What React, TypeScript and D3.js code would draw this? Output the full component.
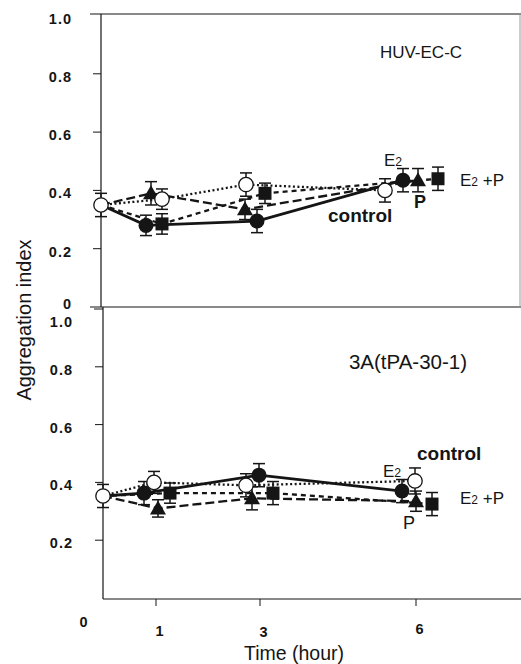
import React from 'react';
import * as d3 from 'd3';

// time points (hours)
const times = [0, 1, 3, 6];
const xTickLabels = ['1', '3', '6'];
const yTicks = [0.2, 0.4, 0.6, 0.8];

// HUV-EC-C panel
const huvControl = [0.35, 0.37, 0.42, 0.4];
const huvE2 = [0.35, 0.28, 0.295, 0.435];
const huvP = [0.35, 0.39, 0.335, 0.435];
const huvE2P = [0.35, 0.285, 0.39, 0.44];
const huvControlErr = [0.04, 0.035, 0.04, 0.04];
const huvE2Err = [0.04, 0.035, 0.04, 0.04];
const huvPErr = [0.04, 0.04, 0.035, 0.04];
const huvE2PErr = [0.04, 0.035, 0.035, 0.04];

// 3A(tPA-30-1) panel
const tpaControl = [0.353, 0.4, 0.39, 0.405];
const tpaE2 = [0.353, 0.363, 0.425, 0.37];
const tpaP = [0.353, 0.31, 0.345, 0.335];
const tpaE2P = [0.353, 0.363, 0.363, 0.325];
const tpaControlErr = [0.04, 0.038, 0.04, 0.045];
const tpaE2Err = [0.04, 0.04, 0.04, 0.04];
const tpaPErr = [0.04, 0.03, 0.04, 0.035];
const tpaE2PErr = [0.04, 0.035, 0.04, 0.04];

// horizontal dodge of the markers (px), so they don't sit on each other
const huvDodge = { control: [-3, 6, -14, -31], E2: [-3, -10, -3, -13], P: [-3, -5, -15, 2], E2P: [-3, 6, 5, 22] };
const tpaDodge = { control: [-1, -2, -14, -1], E2: [-1, -12, -1, -14], P: [-1, 2, -8, 0], E2P: [-1, 14, 13, 16] };

const W = 521;
const H = 664;
const ink = '#151515';
const font = 'Liberation Sans, Arial, Helvetica, sans-serif';

const x = d3.scaleLinear().domain([0, 8]).range([104, 520]);

const styles = {
  control: { dash: '2,2.5', width: 2.3, marker: 'open' },
  E2: { dash: null, width: 2.8, marker: 'dot' },
  P: { dash: '9,4', width: 2.3, marker: 'tri' },
  E2P: { dash: '5,4', width: 2.3, marker: 'sq' }
};

function Marker({ kind, cx, cy }) {
  if (kind === 'open') return <circle cx={cx} cy={cy} r={7.2} fill="#fff" stroke={ink} strokeWidth={1.3} />;
  if (kind === 'dot') return <circle cx={cx} cy={cy} r={7.5} fill={ink} />;
  if (kind === 'tri') {
    const s = 8;
    return <path d={`M${cx},${cy - s}L${cx + s},${cy + s * 0.75}L${cx - s},${cy + s * 0.75}Z`} fill={ink} />;
  }
  return <rect x={cx - 6.5} y={cy - 6.5} width={13} height={13} fill={ink} />;
}

function Panel({ y, axisX, series }) {
  const line = d3.line().x(d => d[0]).y(d => d[1]);
  const order = ['E2P', 'P', 'E2', 'control'];
  return (
    <g>
      {yTicks.map(t => (
        <line key={t} x1={axisX - 8} x2={axisX} y1={y(t)} y2={y(t)} stroke={ink} strokeWidth={1} />
      ))}
      {order.map(k => {
        const s = series[k];
        const pts = times.map((t, i) => [x(t) + s.dodge[i], y(s.values[i])]);
        const st = styles[k];
        return (
          <path key={k} d={line(pts)} fill="none" stroke={ink} strokeWidth={st.width}
            strokeDasharray={st.dash || undefined} />
        );
      })}
      {order.map(k => {
        const s = series[k];
        const st = styles[k];
        return times.map((t, i) => {
          if (i === 0 && k !== 'control') return null;
          const cx = x(t) + s.dodge[i];
          const v = s.values[i];
          const e = s.err[i];
          return (
            <g key={k + i}>
              <line x1={cx} x2={cx} y1={y(v + e)} y2={y(v - e)} stroke={ink} strokeWidth={1.5} />
              <line x1={cx - 6} x2={cx + 6} y1={y(v + e)} y2={y(v + e)} stroke={ink} strokeWidth={1.5} />
              <line x1={cx - 6} x2={cx + 6} y1={y(v - e)} y2={y(v - e)} stroke={ink} strokeWidth={1.5} />
              <Marker kind={st.marker} cx={cx} cy={y(v)} />
            </g>
          );
        });
      })}
    </g>
  );
}

function E2({ x0, y0, size }) {
  return (
    <text x={x0} y={y0} fontSize={size} fontFamily={font} fill={ink}>
      E<tspan fontSize={size * 0.72}>2</tspan>
    </text>
  );
}

export default function App() {
  const yTop = d3.scaleLinear().domain([0, 1]).range([307, 15.5]);
  const yBot = d3.scaleLinear().domain([0, 1]).range([598, 309]);

  const huv = {
    control: { values: huvControl, err: huvControlErr, dodge: huvDodge.control },
    E2: { values: huvE2, err: huvE2Err, dodge: huvDodge.E2 },
    P: { values: huvP, err: huvPErr, dodge: huvDodge.P },
    E2P: { values: huvE2P, err: huvE2PErr, dodge: huvDodge.E2P }
  };
  const tpa = {
    control: { values: tpaControl, err: tpaControlErr, dodge: tpaDodge.control },
    E2: { values: tpaE2, err: tpaE2Err, dodge: tpaDodge.E2 },
    P: { values: tpaP, err: tpaPErr, dodge: tpaDodge.P },
    E2P: { values: tpaE2P, err: tpaE2PErr, dodge: tpaDodge.E2P }
  };

  const tickLabel = { fontFamily: font, fontSize: 14.5, fontWeight: 'bold', fill: ink, letterSpacing: 1 };

  return (
    <svg width={W} height={H} style={{ position: 'absolute', left: 0, top: 0, background: '#fff' }}>
      {/* frame */}
      <line x1={90} x2={521} y1={14} y2={14} stroke={ink} strokeWidth={1.2} />
      <line x1={90} x2={521} y1={307} y2={307} stroke={ink} strokeWidth={1.2} />
      <line x1={520} x2={520} y1={14} y2={307} stroke="#999" strokeWidth={1} />
      <line x1={101} x2={101} y1={14} y2={307} stroke={ink} strokeWidth={1.2} />
      <line x1={103} x2={103} y1={307} y2={599} stroke={ink} strokeWidth={1.2} />
      <line x1={103} x2={521} y1={599} y2={599} stroke={ink} strokeWidth={1.2} />
      <line x1={94} x2={103} y1={yBot(1)} y2={yBot(1)} stroke={ink} strokeWidth={1} />

      {/* x ticks */}
      {times.slice(1).map(t => (
        <line key={t} x1={x(t)} x2={x(t)} y1={599} y2={606} stroke={ink} strokeWidth={1} />
      ))}

      <Panel y={yTop} axisX={101} series={huv} />
      <Panel y={yBot} axisX={103} series={tpa} />

      {/* y tick labels */}
      <g textAnchor="end">
        {[...yTicks, 1].map(t => (
          <text key={'a' + t} x={72} y={yTop(t) + 8} {...tickLabel}>{t.toFixed(1)}</text>
        ))}
        <text x={72} y={yTop(0) + 2} {...tickLabel}>0</text>
        {yTicks.map(t => (
          <text key={'b' + t} x={73} y={yBot(t) + 8} {...tickLabel}>{t.toFixed(1)}</text>
        ))}
        <text x={73} y={yBot(1) + 18} {...tickLabel}>1.0</text>
      </g>

      {/* x tick labels */}
      <text x={84} y={627} textAnchor="middle" {...tickLabel}>0</text>
      {xTickLabels.map((l, i) => (
        <text key={l} x={x(times[i + 1]) + 4} y={[636, 637, 634][i]} textAnchor="middle" {...tickLabel}>{l}</text>
      ))}

      <text x={294} y={660} textAnchor="middle" fontFamily={font} fontSize={19.5} fill={ink}>Time (hour)</text>
      <text transform="translate(31,320) rotate(-90)" textAnchor="middle" fontFamily={font} fontSize={20} fill={ink}>
        Aggregation index
      </text>

      {/* panel titles */}
      <text x={421} y={58} textAnchor="middle" fontFamily={font} fontSize={17} fill={ink}>HUV-EC-C</text>
      <text x={408} y={369} textAnchor="middle" fontFamily={font} fontSize={20.5} fill={ink}>3A(tPA-30-1)</text>

      {/* series labels, top */}
      <E2 x0={384} y0={166} size={17} />
      <text x={460} y={186} fontFamily={font} fontSize={17} fill={ink}>E<tspan fontSize={12}>2</tspan> +P</text>
      <text x={414} y={208} fontFamily={font} fontSize={18} fontWeight="bold" fill={ink}>P</text>
      <text x={328} y={222} fontFamily={font} fontSize={19} fontWeight="bold" fill={ink}>control</text>

      {/* series labels, bottom */}
      <text x={417} y={460} fontFamily={font} fontSize={19} fontWeight="bold" fill={ink}>control</text>
      <E2 x0={383} y0={477} size={17} />
      <text x={460} y={504} fontFamily={font} fontSize={17} fill={ink}>E<tspan fontSize={12}>2</tspan> +P</text>
      <text x={403} y={529} fontFamily={font} fontSize={18} fill={ink}>P</text>
    </svg>
  );
}
